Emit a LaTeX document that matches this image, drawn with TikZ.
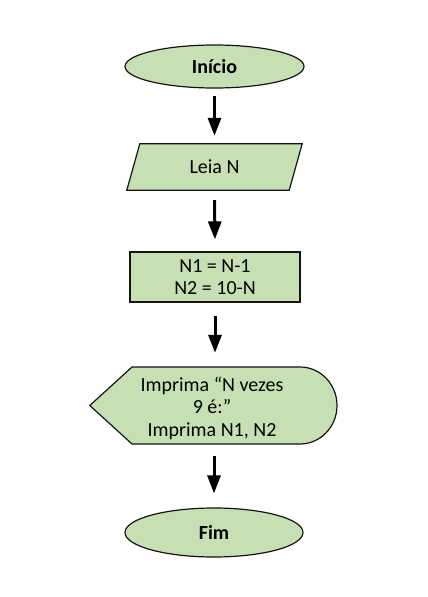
\documentclass[tikz,border=0pt]{standalone}
\usepackage{fontspec}
\setmainfont{Carlito}
\usetikzlibrary{shapes.geometric,arrows.meta}
\definecolor{boxfill}{RGB}{198,224,180}
\definecolor{boxline}{RGB}{20,20,20}
\begin{document}
\begin{tikzpicture}[x=1pt,y=-1pt,
  font=\fontsize{20}{22.5}\selectfont,
  shapeline/.style={draw=boxline,line width=1.2pt,fill=boxfill},
  term/.style={shapeline,ellipse,inner sep=0pt,font=\fontsize{20}{22.5}\selectfont\bfseries},
  flow/.style={line width=3pt,-{Triangle[width=13pt,length=18pt]}}]
\useasboundingbox (0,0) rectangle (428,597);
% start
\node[term,minimum width=179pt,minimum height=43pt] (start) at (214.5,66.5) {Início};
% input parallelogram
\node[minimum width=162pt,minimum height=46pt,inner sep=0pt] (leia) at (214.5,167) {};
\draw[shapeline] ([xshift=6.5pt]leia.north west) -- ([xshift=6.5pt]leia.north east)
  -- ([xshift=-6.5pt]leia.south east) -- ([xshift=-6.5pt]leia.south west) -- cycle;
\node at (leia.center) {Leia N};
% process
\node[shapeline,minimum width=170pt,minimum height=50pt,inner sep=0pt,align=center] (proc) at (215,277)
  {N1 = N-1\\N2 = 10-N};
% display
\node[minimum width=247pt,minimum height=77pt,inner sep=0pt] (disp) at (213.5,405.5) {};
\draw[shapeline] (disp.west) -- (132,367) -- (300,367)
  arc[start angle=90,end angle=-90,x radius=37pt,y radius=38.5pt]
  -- (132,444) -- cycle;
\node[align=center] (disptext) at (212,408) {Imprima “N vezes\\9 é:”\\Imprima N1, N2};
% end
\node[term,minimum width=178pt,minimum height=49pt] (end) at (214,532.5) {Fim};
% arrows
\draw[flow,shorten <=7pt,shorten >=8pt] (start.south) -- (leia.north);
\draw[flow,shorten <=10pt,shorten >=12pt] (leia.south) -- (proc.north);
\draw[flow,shorten <=13pt,shorten >=14pt] (proc.south) -- (disp.north -| proc.south);
\draw[flow,shorten <=12pt,shorten >=14pt] (disp.south -| end.north) -- (end.north);
\end{tikzpicture}
\end{document}
